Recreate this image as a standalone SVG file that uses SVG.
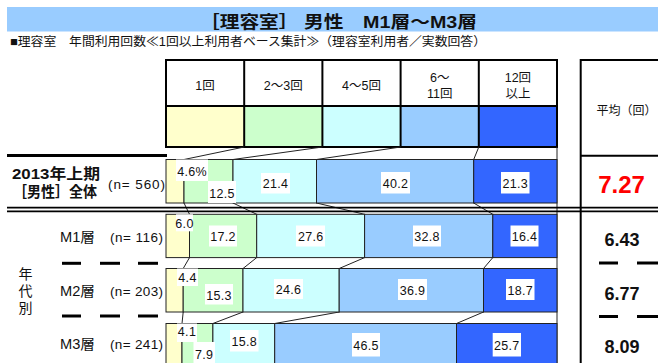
<svg xmlns="http://www.w3.org/2000/svg" width="658" height="363" viewBox="0 0 658 363">
<style>
text{font-family:"Liberation Sans","Noto Sans CJK JP",sans-serif;fill:#111}
.t{font-size:17px;font-weight:bold}
.sub{font-size:12.5px}
.hd{font-size:12.5px;text-anchor:middle}
.lb{font-size:15px;font-weight:bold}
.n{font-size:13.5px}
.v{font-size:12.5px;text-anchor:middle;letter-spacing:0.3px}
.avg{font-size:18px;font-weight:bold;text-anchor:middle}
.c1{fill:#FFFFCC}.c2{fill:#CCFFCC}.c3{fill:#CCFFFF}.c4{fill:#99CCFF}.c5{fill:#3366FF}
.seg{stroke:#222;stroke-width:1}
.wb{fill:#fff}
.con line{stroke:#222;stroke-width:1}
.dash{stroke:#000;stroke-width:3}
</style>
<rect x="7" y="7" width="651" height="24.5" fill="#99CCFF"/>
<text class="t" x="338.5" y="28" text-anchor="middle" textLength="277" lengthAdjust="spacingAndGlyphs">［理容室］ 男性　M1層～M3層</text>
<text class="sub" x="10" y="45.5" textLength="476" lengthAdjust="spacingAndGlyphs">■理容室　年間利用回数≪1回以上利用者ベース集計≫（理容室利用者／実数回答）</text>

<g id="header">
<rect x="166" y="60" width="391" height="46" fill="#fff"/>
<rect class="c1" x="166" y="106" width="78.2" height="41"/>
<rect class="c2" x="244.2" y="106" width="78.2" height="41"/>
<rect class="c3" x="322.4" y="106" width="78.2" height="41"/>
<rect class="c4" x="400.6" y="106" width="78.2" height="41"/>
<rect class="c5" x="478.8" y="106" width="78.2" height="41"/>
<g stroke="#000" stroke-width="2" fill="none">
<rect x="166" y="60" width="391" height="87"/>
<line x1="166" y1="106" x2="557" y2="106"/>
<line x1="244.2" y1="60" x2="244.2" y2="147"/>
<line x1="322.4" y1="60" x2="322.4" y2="147"/>
<line x1="400.6" y1="60" x2="400.6" y2="147"/>
<line x1="478.8" y1="60" x2="478.8" y2="147"/>
</g>
<text class="hd" x="205" y="89.5">1回</text>
<text class="hd" x="283.3" y="89.5">2～3回</text>
<text class="hd" x="361.5" y="89.5">4～5回</text>
<text class="hd" x="439.7" y="81.5">6～</text>
<text class="hd" x="439.7" y="98">11回</text>
<text class="hd" x="517.9" y="81.5">12回</text>
<text class="hd" x="517.9" y="98">以上</text>
</g>

<g id="avg-header">
<text x="626.5" y="115" font-size="12" text-anchor="middle">平均（回）</text>
</g>

<g id="connectors" class="con">
<line x1="244.2" y1="147" x2="184" y2="159.5"/>
<line x1="322.4" y1="147" x2="233" y2="159.5"/>
<line x1="400.6" y1="147" x2="316.5" y2="159.5"/>
<line x1="478.8" y1="147" x2="473.7" y2="159.5"/>
<line x1="184" y1="203" x2="189.5" y2="214.3"/>
<line x1="233" y1="203" x2="256.7" y2="214.3"/>
<line x1="316.5" y1="203" x2="364.6" y2="214.3"/>
<line x1="473.7" y1="203" x2="492.8" y2="214.3"/>
<line x1="189.5" y1="257.6" x2="183.2" y2="268.5"/>
<line x1="256.7" y1="257.6" x2="243" y2="268.5"/>
<line x1="364.6" y1="257.6" x2="339.2" y2="268.5"/>
<line x1="492.8" y1="257.6" x2="483.5" y2="268.5"/>
<line x1="183.2" y1="312" x2="182" y2="323.5"/>
<line x1="243" y1="312" x2="212.9" y2="323.5"/>
<line x1="339.2" y1="312" x2="274.7" y2="323.5"/>
<line x1="483.5" y1="312" x2="456.5" y2="323.5"/>
<line x1="557" y1="147" x2="557" y2="363"/>
</g>

<g id="row-all">
<rect class="c1 seg" x="166" y="159.5" width="18" height="43.5"/>
<rect class="c2 seg" x="184" y="159.5" width="49" height="43.5"/>
<rect class="c3 seg" x="233" y="159.5" width="83.5" height="43.5"/>
<rect class="c4 seg" x="316.5" y="159.5" width="157.2" height="43.5"/>
<rect class="c5 seg" x="473.7" y="159.5" width="83.3" height="43.5"/>
</g>
<g id="row-m1">
<rect class="c1 seg" x="166" y="214.3" width="23.5" height="43.3"/>
<rect class="c2 seg" x="189.5" y="214.3" width="67.2" height="43.3"/>
<rect class="c3 seg" x="256.7" y="214.3" width="107.9" height="43.3"/>
<rect class="c4 seg" x="364.6" y="214.3" width="128.2" height="43.3"/>
<rect class="c5 seg" x="492.8" y="214.3" width="64.2" height="43.3"/>
</g>
<g id="row-m2">
<rect class="c1 seg" x="166" y="268.5" width="17.2" height="43.5"/>
<rect class="c2 seg" x="183.2" y="268.5" width="59.8" height="43.5"/>
<rect class="c3 seg" x="243" y="268.5" width="96.2" height="43.5"/>
<rect class="c4 seg" x="339.2" y="268.5" width="144.3" height="43.5"/>
<rect class="c5 seg" x="483.5" y="268.5" width="73.5" height="43.5"/>
</g>
<g id="row-m3">
<rect class="c1 seg" x="166" y="323.5" width="16" height="43.5"/>
<rect class="c2 seg" x="182" y="323.5" width="30.9" height="43.5"/>
<rect class="c3 seg" x="212.9" y="323.5" width="61.8" height="43.5"/>
<rect class="c4 seg" x="274.7" y="323.5" width="181.8" height="43.5"/>
<rect class="c5 seg" x="456.5" y="323.5" width="100.5" height="43.5"/>
</g>

<g id="rules">
<line x1="7" y1="155.5" x2="167" y2="155.5" stroke="#000" stroke-width="3"/>
<line x1="7" y1="207.6" x2="658" y2="207.6" stroke="#000" stroke-width="1.8"/>
<line x1="7" y1="211.4" x2="658" y2="211.4" stroke="#000" stroke-width="1.8"/>
<line x1="580.7" y1="59" x2="580.7" y2="363" stroke="#000" stroke-width="2"/>
<line x1="580" y1="60" x2="658" y2="60" stroke="#000" stroke-width="2"/>
<line x1="580" y1="155.8" x2="658" y2="155.8" stroke="#000" stroke-width="2"/>
<line class="dash" x1="62" y1="263.3" x2="81" y2="263.3"/>
<line class="dash" x1="100" y1="263.3" x2="120" y2="263.3"/>
<line class="dash" x1="138" y1="263.3" x2="158" y2="263.3"/>
<line class="dash" x1="62" y1="316" x2="81" y2="316"/>
<line class="dash" x1="100" y1="316" x2="120" y2="316"/>
<line class="dash" x1="138" y1="316" x2="158" y2="316"/>
<line class="dash" x1="599" y1="263" x2="618" y2="263"/>
<line class="dash" x1="637" y1="263" x2="658" y2="263"/>
<line class="dash" x1="599" y1="316.5" x2="618" y2="316.5"/>
<line class="dash" x1="637" y1="316.5" x2="658" y2="316.5"/>
</g>

<g id="labels-all">
<rect class="wb" x="176" y="159.5" width="32" height="21.5"/><text class="v" x="192" y="176">4.6%</text>
<rect class="wb" x="208" y="181" width="28" height="22"/><text class="v" x="222" y="197.5">12.5</text>
<rect class="wb" x="261" y="173" width="29" height="20.5"/><text class="v" x="275.5" y="187.5">21.4</text>
<rect class="wb" x="381" y="172" width="29" height="21.5"/><text class="v" x="395.5" y="187.5">40.2</text>
<rect class="wb" x="501" y="172" width="28.5" height="21.5"/><text class="v" x="515.2" y="187.5">21.3</text>
</g>
<g id="labels-m1">
<rect class="wb" x="176" y="214.3" width="17" height="17"/><text class="v" x="184.5" y="228">6.0</text>
<rect class="wb" x="209" y="225.5" width="28" height="21"/><text class="v" x="223" y="241">17.2</text>
<rect class="wb" x="296" y="225.5" width="29" height="21"/><text class="v" x="310.7" y="241">27.6</text>
<rect class="wb" x="413" y="225.5" width="28" height="21"/><text class="v" x="427" y="241">32.8</text>
<rect class="wb" x="510.5" y="225.5" width="28" height="21"/><text class="v" x="524.5" y="241">16.4</text>
</g>
<g id="labels-m2">
<rect class="wb" x="177" y="268.5" width="21" height="17.5"/><text class="v" x="187.5" y="281.5">4.4</text>
<rect class="wb" x="205" y="284" width="28" height="20.5"/><text class="v" x="219" y="299.5">15.3</text>
<rect class="wb" x="274" y="279" width="29" height="20"/><text class="v" x="288.5" y="294">24.6</text>
<rect class="wb" x="398" y="279" width="29" height="21"/><text class="v" x="412.5" y="294.5">36.9</text>
<rect class="wb" x="506" y="279" width="28.5" height="21"/><text class="v" x="520.2" y="294.5">18.7</text>
</g>
<g id="labels-m3">
<rect class="wb" x="177" y="323.5" width="20" height="18.5"/><text class="v" x="187" y="336">4.1</text>
<rect class="wb" x="193.5" y="342" width="21.5" height="21"/><text class="v" x="204.2" y="359">7.9</text>
<rect class="wb" x="230" y="330" width="28.5" height="21.5"/><text class="v" x="244.2" y="346">15.8</text>
<rect class="wb" x="352" y="333" width="28" height="23.5"/><text class="v" x="366" y="350">46.5</text>
<rect class="wb" x="492.7" y="333" width="28.3" height="23.5"/><text class="v" x="506.8" y="350">25.7</text>
</g>

<g id="left-labels">
<text class="lb" x="12" y="178.5" textLength="88" lengthAdjust="spacingAndGlyphs">2013年上期</text>
<text class="lb" x="13" y="197" textLength="84" lengthAdjust="spacingAndGlyphs">［男性］全体</text>
<text class="n" x="108" y="189" textLength="57" lengthAdjust="spacing">(n= 560)</text>
<text x="60" y="242" font-size="14" textLength="35" lengthAdjust="spacingAndGlyphs">M1層</text>
<text class="n" x="110" y="242" textLength="53" lengthAdjust="spacing">(n= 116)</text>
<text x="60" y="295.5" font-size="14" textLength="35" lengthAdjust="spacingAndGlyphs">M2層</text>
<text class="n" x="110" y="295.5" textLength="53" lengthAdjust="spacing">(n= 203)</text>
<text x="60" y="349" font-size="14" textLength="35" lengthAdjust="spacingAndGlyphs">M3層</text>
<text class="n" x="110" y="349" textLength="53" lengthAdjust="spacing">(n= 241)</text>
<text x="25.5" y="279" font-size="14" text-anchor="middle">年</text>
<text x="25.5" y="296" font-size="14" text-anchor="middle">代</text>
<text x="25.5" y="313" font-size="14" text-anchor="middle">別</text>
</g>

<g id="avg-values">
<text class="avg" x="621.5" y="193" style="fill:#FF0000;font-size:24px">7.27</text>
<text class="avg" x="622" y="245.5">6.43</text>
<text class="avg" x="622" y="299.5">6.77</text>
<text class="avg" x="622" y="352.5">8.09</text>
</g>
</svg>
